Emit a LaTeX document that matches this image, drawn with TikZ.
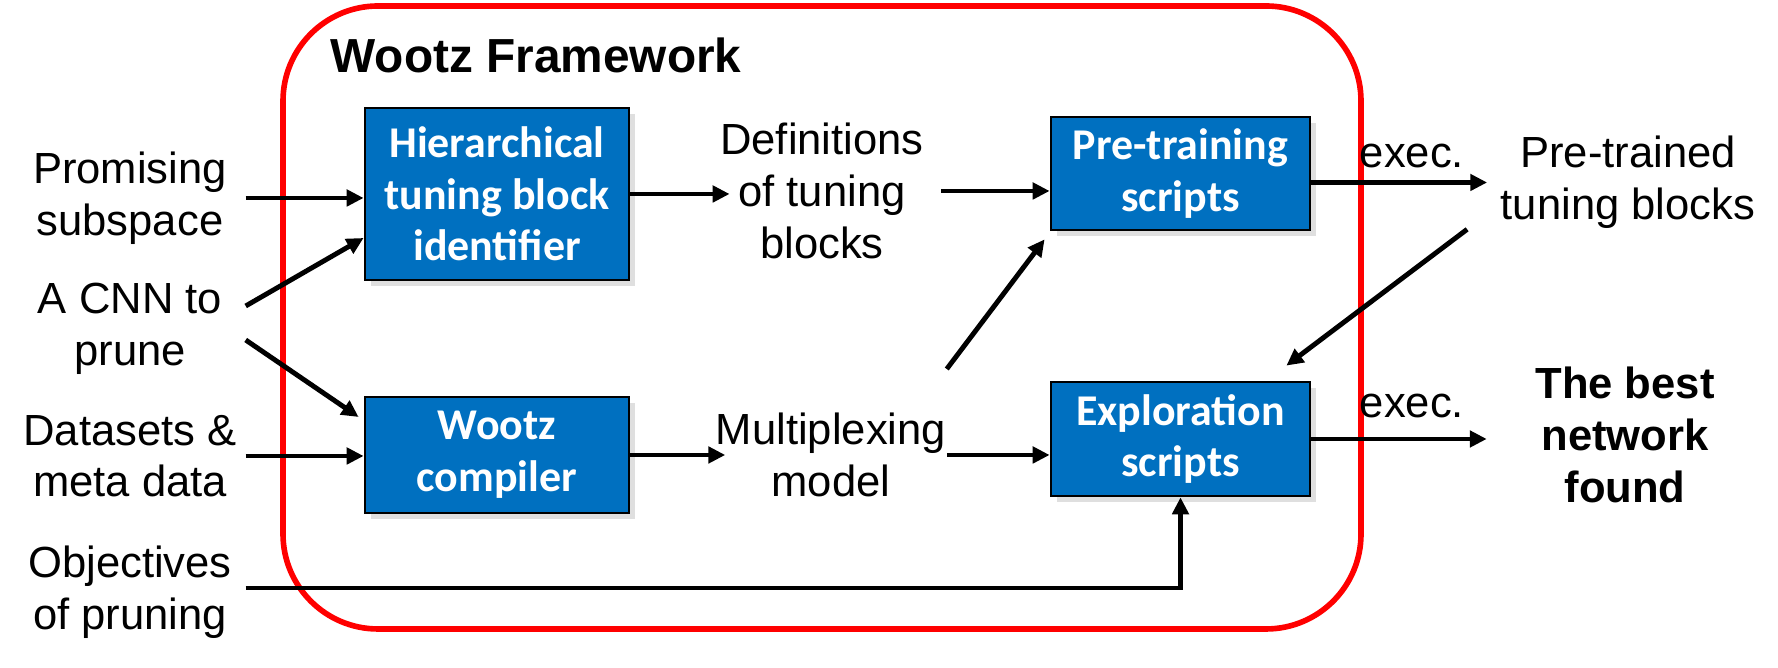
\documentclass[tikz,border=0pt]{standalone}
\usepackage{fontspec}
\setmainfont{Liberation Sans}
\newfontfamily\boxfont{Carlito}
\usetikzlibrary{arrows.meta,shadows}
\definecolor{boxblue}{HTML}{0070C0}

\begin{document}
\begin{tikzpicture}[
    box/.style={draw=black, line width=0.8pt, fill=boxblue, text=white, align=center,
        font=\boxfont\bfseries\fontsize{12.5}{14.7}\selectfont,
        drop shadow={shadow xshift=0.6mm, shadow yshift=-0.6mm, opacity=0.25}},
    lbl/.style={align=center, inner sep=0pt, font=\fontsize{12.4}{14.7}\selectfont},
    inlbl/.style={lbl, minimum width=2.3cm},
    arr/.style={-{Triangle[length=4.8pt,width=4.6pt]}, line width=1.4pt},
]
    \useasboundingbox (0,0) rectangle (17.78,6.68);

    % 框架
    \draw[red, line width=1.6pt, rounded corners=0.95cm] (2.83,0.39) rectangle (13.61,6.62);
    \node[anchor=west, inner sep=0pt, font=\bfseries\fontsize{13.6}{16}\selectfont] (title) at (3.30,6.13) {Wootz Framework};

    % 方块
    \node[box, minimum width=2.64cm, minimum height=1.72cm] (hier) at (4.97,4.74) {Hierarchical\\tuning block\\identifier};
    \node[box, minimum width=2.64cm, minimum height=1.16cm] (comp) at (4.97,2.13) {Wootz\\compiler};
    \node[box, minimum width=2.59cm, minimum height=1.13cm] (pre) at (11.805,4.945) {Pre-training\\scripts};
    \node[box, minimum width=2.59cm, minimum height=1.14cm] (expl) at (11.805,2.29) {Exploration\\scripts};

    % 输入
    \node[inlbl] (prom) at (1.30,4.70) {Promising\\subspace};
    \node[inlbl] (cnn) at (1.30,3.39) {A CNN to\\prune};
    \node[inlbl] (data) at (1.30,2.12) {Datasets \&\\meta data};
    \node[inlbl] (obj) at (1.30,0.76) {Objectives\\of pruning};

    % 中间与输出
    \node[lbl] (defs) at (8.22,4.77) {Definitions\\of tuning\\blocks};
    \node[lbl] (mux) at (8.31,2.13) {Multiplexing\\model};
    \node[lbl] (exec1) at (14.12,5.12) {exec.};
    \node[lbl] (exec2) at (14.12,2.615) {exec.};
    \node[lbl] (pretrained) at (16.28,4.855) {Pre-trained\\tuning blocks};
    \node[lbl, font=\bfseries\fontsize{12.4}{14.9}\selectfont] (best) at (16.25,2.33) {The best\\network\\found};

    % 箭头
    \draw[arr] (prom.east) -- (prom.east -| hier.west);
    \draw[arr] ([yshift=0.23cm]cnn.east) -- ([yshift=-0.44cm]hier.west);
    \draw[arr] ([yshift=-0.11cm]cnn.east) -- ([xshift=-0.5mm,yshift=0.38cm]comp.west);
    \draw[arr] (data.east) -- (data.east -| comp.west);
    \draw[arr] (hier.east) -- ([xshift=1mm]hier.east -| defs.west);
    \draw[arr] (comp.east) -- ([xshift=1mm]comp.east -| mux.west);
    \draw[arr] ([xshift=1.7mm]defs.east) -- (defs.east -| pre.west);
    \draw[arr] ([yshift=0.86cm]mux.east) -- ([xshift=-0.5mm,yshift=-0.8mm]pre.south west);
    \draw[arr] (mux.east) -- (mux.east -| expl.west);
    \draw[arr] (pre.east |- pretrained.west) -- ([xshift=-1.3mm]pretrained.west);
    \draw[arr] ([xshift=-3.3mm]pretrained.south west) -- ([xshift=-2.5mm,yshift=1.5mm]expl.north east);
    \draw[arr] (expl.east) -- ([xshift=-4.8mm]expl.east -| best.west);
    \draw[arr] ([yshift=0.4mm]obj.east) -| (expl.south);
\end{tikzpicture}
\end{document}
